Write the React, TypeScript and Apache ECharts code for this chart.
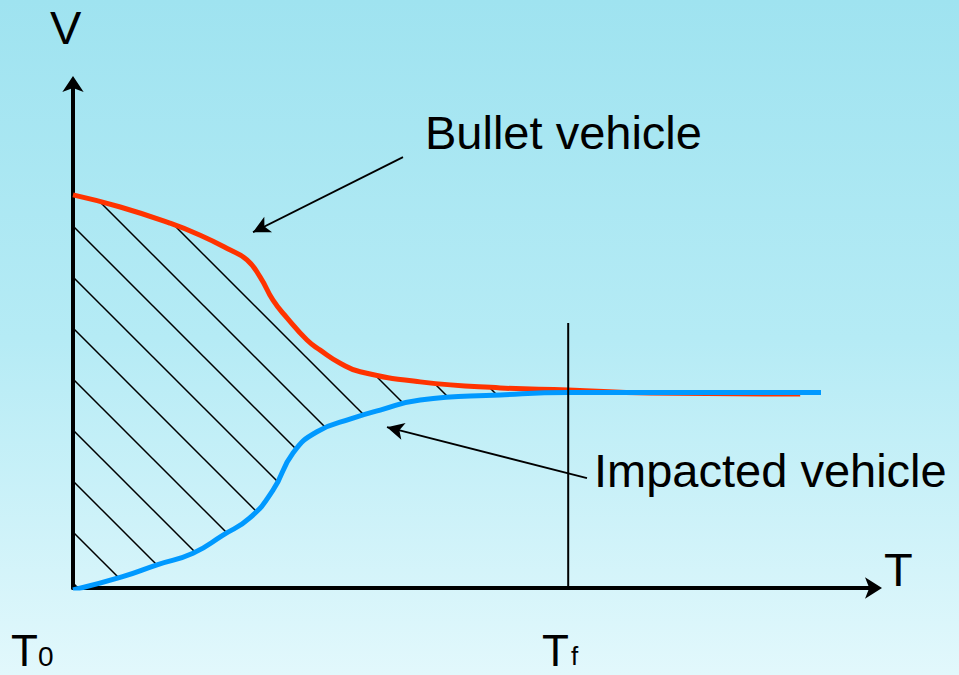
import React, { useEffect, useRef } from "react";
import * as echarts from "echarts";

// Bullet vehicle speed (red)
const bulletT = [0, 5.9, 12.1, 15.9, 19.6, 21.75, 23.4, 25, 26.75, 29.25, 30.9, 33.4, 35.9, 43.4, 53.4, 61.9, 72.1, 90.9];
const bulletV = [78.0, 75.6, 72.4, 70.0, 67.1, 65.1, 61.7, 57.1, 53.6, 49.2, 47.2, 44.6, 42.9, 40.9, 39.7, 39.3, 38.7, 38.5];

// Impacted vehicle speed (blue)
const impactT = [0, 6.1, 10.5, 15, 18.75, 22.1, 25, 27.5, 30.5, 35, 38.4, 43.4, 53.4, 61.9, 78.4, 93.5];
const impactV = [-0.4, 2.2, 4.6, 6.9, 10.5, 13.9, 19.4, 26.8, 31.0, 33.7, 35.3, 37.3, 38.3, 38.8, 38.8, 38.8];

// Final time Tf and the height of its marker line
const tfT = 61.9;
const tfTop = 52.6;

// Annotation arrows: [fromT, fromV, toT, toV]
const bulletArrow = [41.25, 85.5, 22.5, 70.6];
const impactArrow = [64.25, 21.8, 39.25, 31.9];

// Texts
const axisNames = { v: "V", t: "T" };
const timeLabels = [
  { main: "T", sub: "0" },
  { main: "T", sub: "f" },
];
const seriesLabels = ["Bullet vehicle", "Impacted vehicle"];

const FONT = "'Liberation Sans', Arial, Helvetica, sans-serif";

const hatchSvg =
  "<svg xmlns='http://www.w3.org/2000/svg' width='51' height='51'>" +
  "<path d='M0 0L51 51M-3 48L3 54M48 -3L54 3' stroke='black' stroke-width='1.5' fill='none'/></svg>";
const hatchUrl = "data:image/svg+xml;charset=utf-8," + encodeURIComponent(hatchSvg);

export default function App() {
  const ref = useRef<HTMLDivElement>(null);
  useEffect(() => {
    if (!ref.current) return;
    const chart = echarts.init(ref.current, null, { renderer: "svg" });
    const bulletData = bulletT.map((t, i) => [t, bulletV[i]]);
    const impactData = impactT.map((t, i) => [t, impactV[i]]);

    const text = (t: string, x: number, y: number, size: number, lh?: number) => ({
      type: "text",
      x,
      y,
      silent: true,
      style: {
        text: t,
        fontSize: size,
        fontFamily: FONT,
        fill: "#000",
        align: "left",
        verticalAlign: "middle",
        lineHeight: lh || size,
      },
    });

    chart.setOption({
      animation: false,
      backgroundColor: "transparent",
      grid: { left: 73, right: 86, top: 84, bottom: 87, containLabel: false },
      xAxis: {
        type: "value",
        min: 0,
        max: 100,
        axisLine: {
          show: true,
          onZero: false,
          symbol: ["none", "arrow"],
          symbolSize: [16, 17],
          symbolOffset: [0, 9],
          lineStyle: { color: "#000", width: 4 },
        },
        axisTick: { show: false },
        axisLabel: { show: false },
        splitLine: { show: false },
      },
      yAxis: {
        type: "value",
        min: 0,
        max: 100,
        axisLine: {
          show: true,
          onZero: false,
          symbol: ["none", "arrow"],
          symbolSize: [16, 16],
          symbolOffset: [0, 8],
          lineStyle: { color: "#000", width: 4 },
        },
        axisTick: { show: false },
        axisLabel: { show: false },
        splitLine: { show: false },
      },
      series: [
        {
          type: "custom",
          z: 1,
          silent: true,
          clip: false,
          data: [[0, 0]],
          renderItem: (_params: any, api: any) => {
            const pts: number[][] = [];
            bulletT.forEach((t, i) => {
              if (t <= tfT) pts.push(api.coord([t, bulletV[i]]));
            });
            for (let i = impactT.length - 1; i >= 0; i--) {
              if (impactT[i] <= tfT) pts.push(api.coord([impactT[i], impactV[i]]));
            }
            return {
              type: "polygon",
              shape: { points: pts },
              style: {
                fill: {
                  image: hatchUrl,
                  repeat: "repeat",
                  imageWidth: 51,
                  imageHeight: 51,
                  y: 2,
                },
                stroke: "none",
              },
            };
          },
        },
        {
          name: seriesLabels[0],
          type: "line",
          z: 2,
          data: bulletData,
          smooth: 0.5,
          showSymbol: false,
          silent: true,
          lineStyle: { color: "#FF3300", width: 5 },
          markLine: {
            silent: true,
            symbol: ["none", "arrow"],
            symbolSize: [13, 17],
            label: { show: false },
            lineStyle: { color: "#000", width: 1.8, type: "solid" },
            data: [
              [
                { coord: [bulletArrow[0], bulletArrow[1]] },
                { coord: [bulletArrow[2], bulletArrow[3]] },
              ],
              [
                { coord: [impactArrow[0], impactArrow[1]] },
                { coord: [impactArrow[2], impactArrow[3]] },
              ],
            ],
          },
        },
        {
          name: seriesLabels[1],
          type: "line",
          z: 3,
          data: impactData,
          smooth: 0.5,
          showSymbol: false,
          silent: true,
          lineStyle: { color: "#0099FF", width: 5 },
        },
        {
          type: "line",
          z: 4,
          data: [
            [tfT, 0],
            [tfT, tfTop],
          ],
          showSymbol: false,
          silent: true,
          lineStyle: { color: "#000", width: 2 },
        },
      ],
      graphic: [
        text(axisNames.v, 50, 27, 47),
        text(axisNames.t, 884, 569, 47),
        text(timeLabels[0].main, 11, 650, 44, 36),
        text(timeLabels[0].sub, 38, 656, 28, 24),
        text(timeLabels[1].main, 542, 650, 44, 36),
        text(timeLabels[1].sub, 571, 656, 26, 24),
        text(seriesLabels[0], 425, 132, 47),
        text(seriesLabels[1], 594, 470, 47),
      ],
    });
    return () => chart.dispose();
  }, []);

  return (
    <div
      ref={ref}
      style={{
        position: "fixed",
        left: 0,
        top: 0,
        width: 959,
        height: 675,
        background: "linear-gradient(to bottom, #9FE3F0 0%, #B5EBF5 50%, #E2F8FC 100%)",
      }}
    />
  );
}
